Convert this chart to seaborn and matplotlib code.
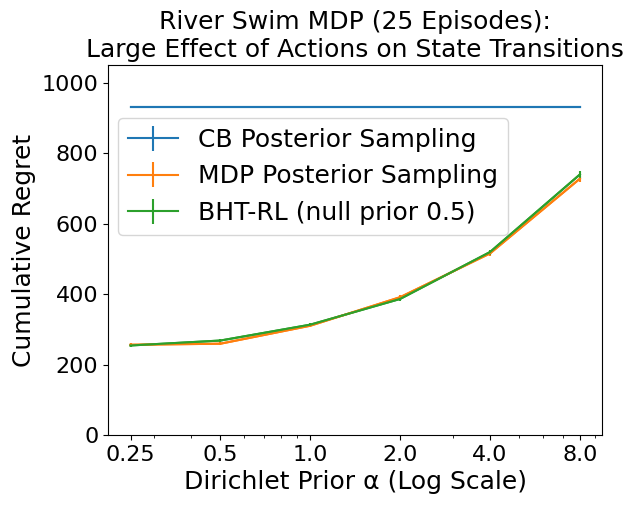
import matplotlib
matplotlib.use("Agg")
import matplotlib.pyplot as plt
import seaborn as sns
import pandas as pd
import numpy as np

alphas = [0.25, 0.5, 1.0, 2.0, 4.0, 8.0]
tick_labels = ["0.25", "0.5", "1.0", "2.0", "4.0", "8.0"]
series_names = ["CB Posterior Sampling", "MDP Posterior Sampling", "BHT-RL (null prior 0.5)"]
cb_regret = [930, 930, 930, 930, 930, 930]
mdp_regret = [256, 259, 310, 391, 515, 727]
bht_regret = [254, 268, 313, 386, 519, 739]
cb_err = [2, 2, 2, 2, 2, 2]
mdp_err = [5, 5, 5, 6, 6, 8]
bht_err = [5, 5, 5, 6, 7, 10]
colors = ["#1f77b4", "#ff7f0e", "#2ca02c"]

values = [cb_regret, mdp_regret, bht_regret]
errs = [cb_err, mdp_err, bht_err]

df = pd.DataFrame({
    "alpha": alphas * 3,
    "regret": cb_regret + mdp_regret + bht_regret,
    "method": sum([[n] * len(alphas) for n in series_names], []),
})

plt.rcParams['font.family'] = ['DejaVu Sans']
fig = plt.figure(figsize=(6.32, 5.07), dpi=100)
ax = fig.add_axes([0.171, 0.142, 0.782, 0.730])

sns.lineplot(data=df, x="alpha", y="regret", hue="method", palette=colors,
             hue_order=series_names, legend=False, ax=ax, linewidth=1.5)
for name, v, e, c in zip(series_names, values, errs, colors):
    ax.errorbar(alphas, v, yerr=e, color=c, label=name, linewidth=1.5)

ax.set_xscale("log")
ax.set_xticks(alphas)
ax.set_xticklabels(tick_labels)
ax.set_ylim(0, 1050)
ax.set_yticks([0, 200, 400, 600, 800, 1000])
ax.tick_params(axis="both", labelsize=16)
ax.set_xlabel("Dirichlet Prior α (Log Scale)", fontsize=18)
ax.set_ylabel("Cumulative Regret", fontsize=18)
ax.set_title("River Swim MDP (25 Episodes):\nLarge Effect of Actions on State Transitions", fontsize=18)
ax.legend(fontsize=18, loc="upper left", bbox_to_anchor=(0.02, 0.857), borderaxespad=0)

fig.savefig("out.png", dpi=100)
